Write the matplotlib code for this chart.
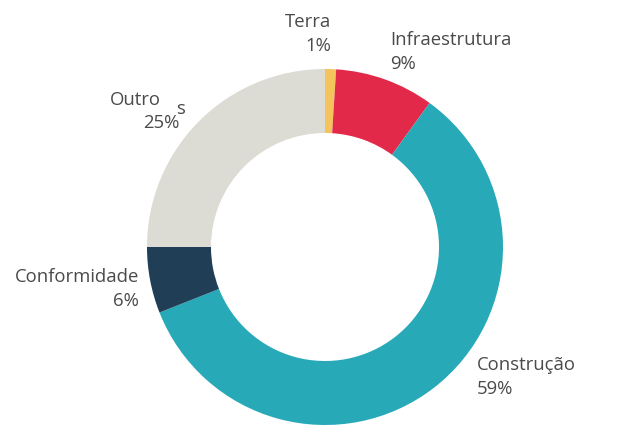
import matplotlib
matplotlib.use("Agg")
import matplotlib.pyplot as plt

labels = ["Terra", "Infraestrutura", "Construção", "Conformidade", "Outros"]
values = [1, 9, 59, 6, 25]
colors = ["#F4C35C", "#E2294A", "#28A9B8", "#203F57", "#DCDCD4"]

plt.rcParams["font.family"] = ["Open Sans", "DejaVu Sans"]

fig = plt.figure(figsize=(6.22, 4.4), dpi=100)
ax = fig.add_axes([0, 0, 1, 1])

# donut, drawn clockwise from 12 o'clock
ax.pie(values, colors=colors, startangle=90, counterclock=False,
       center=(325, 193), radius=178,
       wedgeprops=dict(width=64, edgecolor="none"))

# pie resets limits, so set pixel-like coords afterwards
ax.set_xlim(0, 622)
ax.set_ylim(0, 440)
ax.set_aspect("equal")
ax.axis("off")

fs = 13.3
txt = dict(color="#4a4a4a", fontsize=fs, linespacing=1.4, va="center")
ax.text(331, 406, "Terra\n" + f"{values[0]}%", ha="right", multialignment="right", **txt)
ax.text(390, 388, "Infraestrutura\n" + f"{values[1]}%", ha="left", **txt)
ax.text(477, 63, "Construção\n" + f"{values[2]}%", ha="left", **txt)
ax.text(139, 151, "Conformidade\n" + f"{values[3]}%", ha="right", multialignment="right", **txt)
# "Outros" label is broken in the source: "Outro" + raised "s"
ax.text(161, 340, "Outro", ha="right", color="#4a4a4a", fontsize=fs, va="center")
ax.text(176, 331, "s", ha="left", color="#4a4a4a", fontsize=fs, va="center")
ax.text(179, 317, f"{values[4]}%", ha="right", color="#4a4a4a", fontsize=fs, va="center")

fig.savefig("out.png", dpi=100)
